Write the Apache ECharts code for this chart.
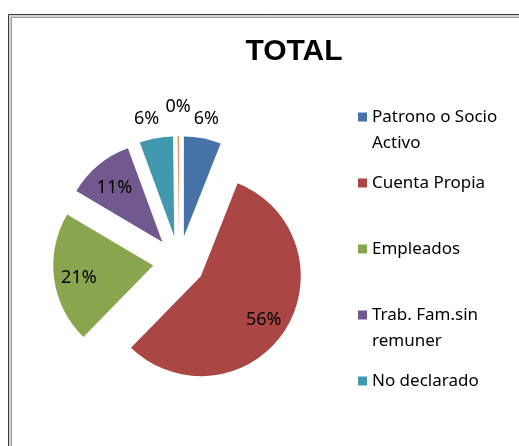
<!DOCTYPE html>
<html>
<head>
<meta charset="utf-8">
<script src="https://cdn.jsdelivr.net/npm/echarts@6/dist/echarts.min.js"></script>
<style>
  html, body { margin: 0; padding: 0; background: #fff; }
  #chart { width: 519px; height: 446px; }
</style>
</head>
<body>
<div id="chart"></div>
<script>
// data (share of total, %)
const categories = ['Patrono o Socio Activo', 'Cuenta Propia', 'Empleados', 'Trab. Fam.sin remuner', 'No declarado', 'Otros']
const values = [6.0, 56.3, 21.2, 10.9, 5.4, 0.2]
const legendNames = categories.slice(0, 5)
const legendLines = ['Patrono o Socio\nActivo', 'Cuenta Propia', 'Empleados', 'Trab. Fam.sin\nremuner', 'No declarado']

const colors = ['#4572A7', '#AA4643', '#89A54E', '#71588F', '#4198AF', '#DB843D']
const outsideLabel = [true, false, false, false, true, true]

const FONT = 'Noto Sans'
const LINE_H = 26

const chart = echarts.init(document.getElementById('chart'), null, { renderer: 'canvas' })

const slices = categories.map((name, i) => ({
  name,
  value: values[i],
  selected: true,
  itemStyle: { color: colors[i] },
}))

const labelSlices = categories.map((name, i) => ({
  name,
  value: values[i],
  selected: true,
  label: { position: outsideLabel[i] ? 'outside' : 'inside' },
  labelLine: { show: false, length: i === 5 ? 29 : 20, length2: 0 },
}))

// two-line legend entries get an empty first line so the marker sits on the
// first real line; one-line entries are padded to the same height
function legendText(i) {
  const txt = legendLines[i]
  return txt.includes('\n') ? '\n' + txt : txt
}

const common = {
  type: 'pie',
  center: [179, 262],
  startAngle: 90,
  clockwise: true,
  selectedMode: 'multiple',
  selectedOffset: 26,
  avoidLabelOverlap: false,
  emphasis: { disabled: true },
  select: { itemStyle: { borderWidth: 0 } },
}

chart.setOption({
  animation: false,
  color: colors,
  title: {
    text: 'TOTAL',
    left: 289,
    top: 32,
    textAlign: 'center',
    textStyle: { fontFamily: 'Liberation Sans', fontWeight: 'bold', fontSize: 30, color: '#000' },
  },
  legend: {
    orient: 'vertical',
    left: 358,
    top: 78,
    padding: 0,
    itemGap: 66 - 3 * LINE_H,
    itemWidth: 9,
    itemHeight: 9,
    icon: 'rect',
    selectedMode: false,
    formatter: name => legendText(legendNames.indexOf(name)),
    textStyle: { fontFamily: FONT, fontSize: 17, color: '#000', lineHeight: LINE_H },
    data: legendNames.map((name, i) => ({
      name,
      textStyle: { padding: legendLines[i].includes('\n') ? 0 : [LINE_H, 0, LINE_H, 0] },
    })),
  },
  graphic: [
    { type: 'rect', silent: true, shape: { x: 8.5, y: 14.5, width: 540, height: 460 }, style: { fill: null, stroke: '#3a3a3a', lineWidth: 1 } },
    { type: 'rect', silent: true, shape: { x: 10, y: 16, width: 540, height: 460 }, style: { fill: null, stroke: '#d4d4d4', lineWidth: 2 } },
    { type: 'rect', silent: true, shape: { x: 11.5, y: 17.5, width: 540, height: 460 }, style: { fill: null, stroke: '#9a9a9a', lineWidth: 1 } },
  ],
  series: [
    Object.assign({}, common, {
      name: 'TOTAL',
      radius: [0, 100],
      label: { show: false },
      labelLine: { show: false },
      data: slices,
    }),
    Object.assign({}, common, {
      name: 'labels',
      silent: true,
      radius: [44, 100],
      itemStyle: { color: 'transparent' },
      select: { itemStyle: { color: 'transparent', borderWidth: 0 } },
      label: {
        show: true,
        formatter: '{d}%',
        fontFamily: FONT,
        fontSize: 18,
        color: '#000',
        distanceToLabelLine: 0,
      },
      percentPrecision: 0,
      labelLayout: params => (outsideLabel[params.dataIndex]
        ? { align: 'center', dx: params.dataIndex === 4 ? -6 : 0 }
        : { dy: 3 }),
      data: labelSlices,
    }),
  ],
})
</script>
</body>
</html>
